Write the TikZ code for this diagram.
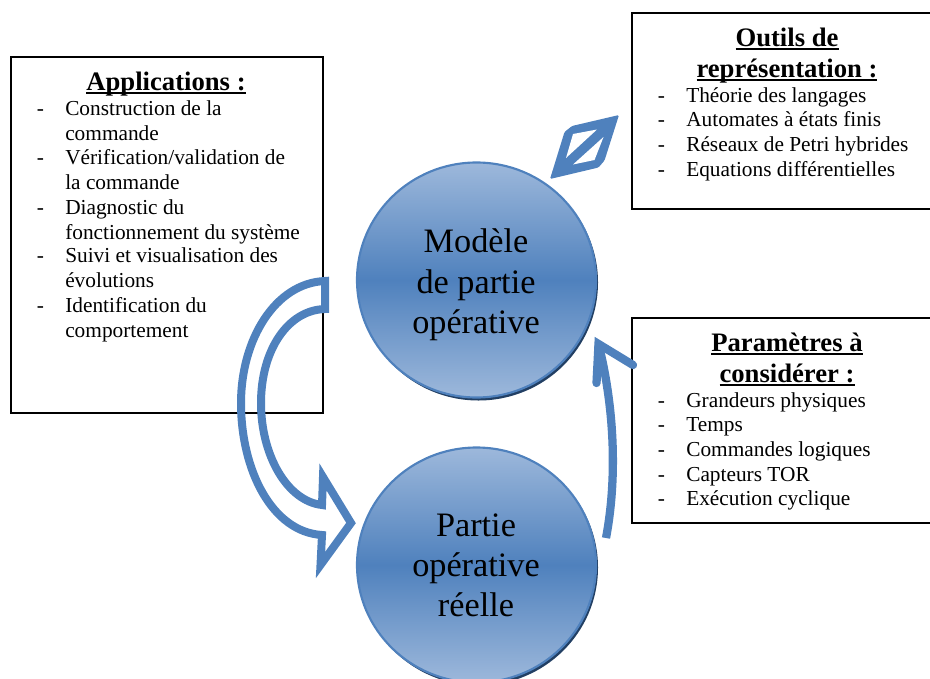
\documentclass[tikz,border=0pt]{standalone}
\usepackage{fontspec}
\setmainfont{Liberation Serif}
\usetikzlibrary{calc}
\definecolor{arrowblue}{HTML}{4F81BD}
\definecolor{discdark}{HTML}{223F63}
\definecolor{disclight}{HTML}{9DB8DB}
\definecolor{discmid}{HTML}{4F81BD}
\definecolor{discedge}{HTML}{4F81BD}
\tikzset{
  x=0.75pt,y=-0.75pt,
  framebox/.style={draw=black,line width=1.5pt,fill=white},
  bodyline/.style={anchor=base west,inner sep=0pt,font=\fontsize{16}{16}\selectfont},
  dashmark/.style={anchor=base west,inner sep=0pt,font=\fontsize{16}{16}\selectfont},
  boxtitle/.style={anchor=base,inner sep=0pt,font=\fontsize{20}{20}\selectfont\bfseries},
  disclabel/.style={anchor=base,inner sep=0pt,font=\fontsize{25.7}{25.7}\selectfont},
  flowline/.style={draw=arrowblue,line width=6pt,fill=none,line join=miter,miter limit=10},
  thinflow/.style={draw=arrowblue,line width=6.2pt},
}
\newcommand{\titletext}[1]{\setbox0\hbox{#1}\rlap{\rule[-2.9pt]{\wd0}{1.3pt}}\box0 }
\newcommand{\disc}[3]{%
  \fill[discdark] (#2+2,#3+2.5) ellipse [x radius=119.5,y radius=118];
  \shade[top color=disclight,bottom color=disclight,middle color=discmid,draw=discedge,line width=1.6pt] (#2,#3) ellipse [x radius=119.5,y radius=117.5];
  \coordinate (#1) at (#2,#3);
}
\begin{document}
\begin{tikzpicture}
\useasboundingbox (0,0) rectangle (930,678);
\clip (0,0) rectangle (930,678);

% boxes
\draw[framebox] (10.5,56.5) rectangle (322.5,413);
\draw[framebox] (632,13) rectangle (940,208.5);
\draw[framebox] (632,318) rectangle (940,522.5);

% discs
\disc{modele}{476.5}{280}
\disc{reelle}{476.5}{565}
\node[disclabel] (m1) at (476,252) {Modèle};
\node[disclabel] (m2) at (476,293) {de partie};
\node[disclabel] (m3) at (476,333) {opérative};
\node[disclabel] (r1) at (476,536) {Partie};
\node[disclabel] (r2) at (476,576) {opérative};
\node[disclabel] (r3) at (476,616) {réelle};

% Applications
\node[boxtitle] (a0) at (166,90) {\titletext{Applications :}};
\foreach \n/\y/\t in {a1/115/Construction de la,a2/140/commande,a3/164/Vérification\slash validation de,a4/189/la commande,a5/214/Diagnostic du,a6/239/fonctionnement du système,a7/262/Suivi et visualisation des,a8/287/évolutions,a9/312/Identification du,a10/337/comportement}
  \node[bodyline] (\n) at (65,\y) {\t};
\foreach \n/\y in {ad1/115,ad3/164,ad5/214,ad7/262,ad9/312}
  \node[dashmark] (\n) at (36.5,\y) {-};

% Outils
\node[boxtitle] (o0) at (787,46) {\titletext{Outils de}};
\node[boxtitle] (o00) at (787,77) {\titletext{représentation :}};
\foreach \n/\y/\t in {o1/102/Théorie des langages,o2/126/Automates à états finis,o3/151/Réseaux de Petri hybrides,o4/176/Equations différentielles}
  \node[bodyline] (\n) at (686,\y) {\t};
\foreach \n/\y in {od1/102,od2/126,od3/151,od4/176}
  \node[dashmark] (\n) at (657.5,\y) {-};

% Parametres
\node[boxtitle] (p0) at (787,351) {\titletext{Paramètres à}};
\node[boxtitle] (p00) at (787,382) {\titletext{considérer :}};
\foreach \n/\y/\t in {p1/407/Grandeurs physiques,p2/431/Temps,p3/456/Commandes logiques,p4/481/Capteurs TOR,p5/505/Exécution cyclique}
  \node[bodyline] (\n) at (686,\y) {\t};
\foreach \n/\y in {pd1/407,pd2/431,pd3/456,pd4/481,pd5/505}
  \node[dashmark] (\n) at (657.5,\y) {-};

% curved block arrow
\coordinate (cOutTop) at (325,281);
\coordinate (cInTop) at (325,309);
\coordinate (cOutBot) at (322,535);
\coordinate (cInBot) at (322,505);
\coordinate (cHeadTop) at (323,477);
\coordinate (cHeadTip) at (351,523);
\coordinate (cHeadBot) at (320.5,565);
\draw[flowline] (cOutTop)
   .. controls (275,283) and (241,340) .. (241,403)
   .. controls (241,470) and (272,532) .. (cOutBot)
   -- (cHeadBot) -- (cHeadTip) -- (cHeadTop) -- (cInBot)
   .. controls (287,501) and (261,455) .. (261,403)
   .. controls (261,350) and (288,310) .. (cInTop)
   -- cycle;

% thin arrow
\coordinate (tStart) at (606,538);
\coordinate (tTip) at (598.5,344);
\coordinate (tLeft) at (596.5,383);
\coordinate (tRight) at (633,365);
\draw[thinflow] (tStart) .. controls (617,480) and (615,410) .. (tTip);
\draw[thinflow,line cap=round,line join=miter,miter limit=10] (tLeft) -- (tTip) -- (tRight);

% diamond double arrow
\coordinate (dTipA) at (619,115);
\coordinate (dTipB) at (550,179);
\fill[arrowblue,rounded corners=1pt] (dTipA) -- (572,126) -- (564.5,132) -- (dTipB) -- (598.5,167.5) -- (604.5,160.5) -- cycle;
\fill[white] (597,129.5) -- (573,134) -- (566,158) -- cycle;
\fill[white] (603.5,137) -- (594.5,160) -- (573,164.5) -- cycle;
\end{tikzpicture}
\end{document}
